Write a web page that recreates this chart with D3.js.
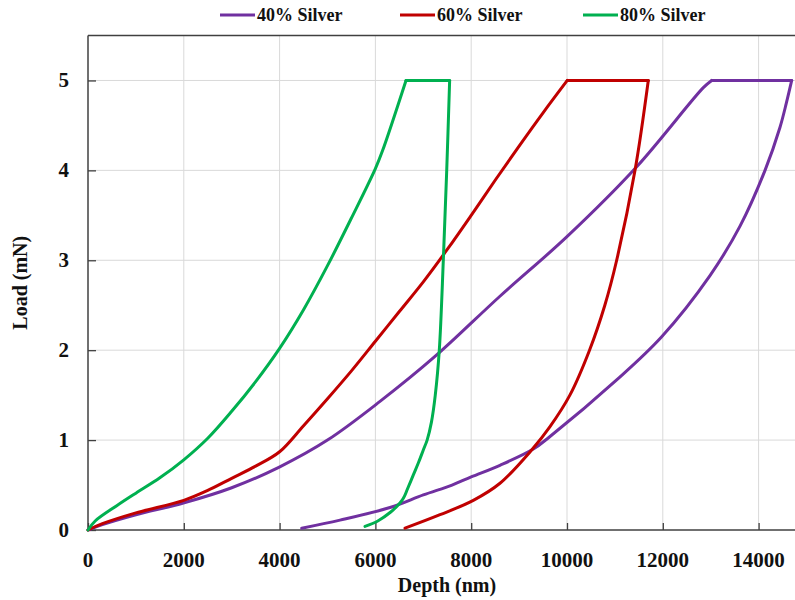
<!DOCTYPE html>
<html>
<head>
<meta charset="utf-8">
<script src="https://cdn.jsdelivr.net/npm/d3@7"></script>
<style>
  body { margin: 0; background: #fff; }
  svg { display: block; font-family: "Liberation Serif", "Times New Roman", serif; font-weight: bold; }
</style>
</head>
<body>
<div id="picture"></div>
<script>
// series names and colours
var seriesNames = ["40% Silver", "60% Silver", "80% Silver"];
var seriesColors = ["#7030A0", "#C00000", "#00B050"];

// loading branch (depth nm, load mN), ends where the hold starts
var loadDepth40 = [0, 300, 1000, 1990, 3000, 3994, 5000, 6096, 7244, 8600, 9994, 11455, 12846, 13021];
var loadForce40 = [0, 0.06, 0.17, 0.30, 0.47, 0.70, 1.00, 1.43, 1.93, 2.60, 3.26, 4.04, 4.92, 5.00];
// unloading branch, starts where the hold ends
var unloadDepth40 = [14691, 14580, 14447, 14134, 13612, 12985, 11977, 11037, 9645, 9297, 8600, 8000, 7600, 7000, 6305, 5261, 4461];
var unloadForce40 = [5.00, 4.75, 4.48, 4.00, 3.38, 2.83, 2.15, 1.67, 1.04, 0.90, 0.72, 0.59, 0.50, 0.39, 0.25, 0.11, 0.02];

var loadDepth60 = [0, 300, 1000, 2000, 2500, 3000, 3500, 4000, 4500, 5000, 5500, 6000, 6500, 7000, 7500, 8000, 8500, 9000, 9500, 10006];
var loadForce60 = [0, 0.07, 0.19, 0.33, 0.44, 0.575, 0.71, 0.87, 1.16, 1.46, 1.77, 2.10, 2.43, 2.76, 3.12, 3.50, 3.89, 4.27, 4.64, 5.00];
var unloadDepth60 = [11697, 11420, 11037, 10790, 10470, 10060, 9645, 9262, 8601, 8044, 7349, 6618];
var unloadForce60 = [5.00, 4.00, 3.00, 2.50, 2.00, 1.50, 1.15, 0.89, 0.52, 0.33, 0.17, 0.02];

var loadDepth80 = [0, 150, 600, 1000, 1500, 2000, 2500, 3000, 3500, 4000, 4500, 5000, 5500, 6000, 6150, 6639];
var loadForce80 = [0, 0.10, 0.27, 0.41, 0.58, 0.78, 1.02, 1.32, 1.65, 2.02, 2.45, 2.94, 3.47, 4.02, 4.22, 5.00];
var unloadDepth80 = [7550, 7489, 7418, 7334, 7250, 7170, 7080, 7000, 6900, 6790, 6665, 6610, 6555, 6460, 6320, 6050, 5783];
var unloadForce80 = [5.00, 4.00, 3.00, 2.00, 1.50, 1.20, 1.00, 0.89, 0.75, 0.61, 0.45, 0.38, 0.33, 0.27, 0.20, 0.10, 0.04];

// axis ticks
var xTicks = [0, 2000, 4000, 6000, 8000, 10000, 12000, 14000];
var yTicks = [0, 1, 2, 3, 4, 5];

function pairs(xs, ys) {
    return xs.map(function (x, i) { return [x, ys[i]]; });
}

function draw() {
    "use strict";

    var width = 795, height = 600;
    var left = 88, top = 35.5, bottom = 530;

    var series = [
        { load: pairs(loadDepth40, loadForce40), unload: pairs(unloadDepth40, unloadForce40) },
        { load: pairs(loadDepth60, loadForce60), unload: pairs(unloadDepth60, unloadForce60) },
        { load: pairs(loadDepth80, loadForce80), unload: pairs(unloadDepth80, unloadForce80) }
    ];

    var svg = d3.select("#picture")
        .append("svg")
        .attr("width", width)
        .attr("height", height);

    var x_scale = d3.scaleLinear().domain([0, 15000]).range([left, 806.5]);
    var y_scale = d3.scaleLinear().domain([0, 5.5]).range([bottom, top]);
    var right = Math.min(width, x_scale(15000));

    // grid
    svg.append("g").selectAll("line")
        .data(xTicks.slice(1))
        .enter().append("line")
        .attr("x1", function (d) { return x_scale(d); })
        .attr("x2", function (d) { return x_scale(d); })
        .attr("y1", top).attr("y2", bottom)
        .attr("stroke", "#d9d9d9").attr("stroke-width", 1);

    svg.append("g").selectAll("line")
        .data(yTicks.slice(1))
        .enter().append("line")
        .attr("x1", left).attr("x2", right)
        .attr("y1", function (d) { return y_scale(d); })
        .attr("y2", function (d) { return y_scale(d); })
        .attr("stroke", "#d9d9d9").attr("stroke-width", 1);

    // axes, ticks pointing inward
    var x_axis = d3.axisTop(x_scale).tickValues(xTicks).tickSize(7).tickFormat("");
    svg.append("g")
        .attr("class", "x_axis")
        .attr("transform", "translate(0, " + bottom + ")")
        .call(x_axis)
        .call(function (g) {
            g.select(".domain").remove();
            g.selectAll("line").attr("stroke", "#404040").attr("stroke-width", 1.3);
        });

    var y_axis = d3.axisRight(y_scale).tickValues(yTicks).tickSize(8).tickFormat("");
    svg.append("g")
        .attr("class", "y_axis")
        .attr("transform", "translate(" + left + ", 0)")
        .call(y_axis)
        .call(function (g) {
            g.select(".domain").remove();
            g.selectAll("line").attr("stroke", "#404040").attr("stroke-width", 1.3);
        });

    svg.append("line").attr("x1", left).attr("x2", right).attr("y1", bottom).attr("y2", bottom)
        .attr("stroke", "#404040").attr("stroke-width", 1.5);
    svg.append("line").attr("x1", left).attr("x2", right).attr("y1", top).attr("y2", top)
        .attr("stroke", "#404040").attr("stroke-width", 1.5);
    svg.append("line").attr("x1", left).attr("x2", left).attr("y1", top).attr("y2", bottom)
        .attr("stroke", "#404040").attr("stroke-width", 1.5);

    // tick labels
    svg.append("g").selectAll("text")
        .data(xTicks)
        .enter().append("text")
        .attr("x", function (d) { return x_scale(d); })
        .attr("y", 567)
        .attr("text-anchor", "middle")
        .attr("font-size", 21)
        .attr("fill", "#111")
        .text(function (d) { return d; });

    svg.append("g").selectAll("text")
        .data(yTicks)
        .enter().append("text")
        .attr("x", 69)
        .attr("y", function (d) { return y_scale(d) + 7; })
        .attr("text-anchor", "end")
        .attr("font-size", 21)
        .attr("fill", "#111")
        .text(function (d) { return d; });

    // axis titles
    svg.append("text")
        .text("Depth (nm)")
        .attr("x", 447)
        .attr("y", 592)
        .attr("text-anchor", "middle")
        .attr("font-size", 20)
        .attr("fill", "#111");

    svg.append("text")
        .text("Load (mN)")
        .attr("transform", "translate(27, " + ((top + bottom) / 2) + ") rotate(-90)")
        .attr("text-anchor", "middle")
        .attr("font-size", 20)
        .attr("fill", "#111");

    // curves: loading, hold, unloading
    var smooth = d3.line()
        .x(function (d) { return x_scale(d[0]); })
        .y(function (d) { return y_scale(d[1]); })
        .curve(d3.curveCatmullRom.alpha(0.5));
    var straight = d3.line()
        .x(function (d) { return x_scale(d[0]); })
        .y(function (d) { return y_scale(d[1]); });

    series.forEach(function (s, i) {
        var g = svg.append("g")
            .attr("fill", "none")
            .attr("stroke", seriesColors[i])
            .attr("stroke-width", 3)
            .attr("stroke-linejoin", "round")
            .attr("stroke-linecap", "round");
        g.append("path").attr("d", smooth(s.load));
        g.append("path").attr("d", straight([s.load[s.load.length - 1], s.unload[0]]));
        g.append("path").attr("d", smooth(s.unload));
    });

    // legend
    var legendX = [220, 400, 583];
    var legend = svg.append("g").selectAll("g")
        .data(seriesNames)
        .enter().append("g")
        .attr("transform", function (d, i) { return "translate(" + legendX[i] + ", 15)"; });
    legend.append("line")
        .attr("x1", 0).attr("x2", 35)
        .attr("stroke", function (d, i) { return seriesColors[i]; })
        .attr("stroke-width", 3);
    legend.append("text")
        .attr("x", 37)
        .attr("y", 6)
        .attr("font-size", 18)
        .attr("fill", "#111")
        .text(function (d) { return d; });
}

draw();
</script>
</body>
</html>
